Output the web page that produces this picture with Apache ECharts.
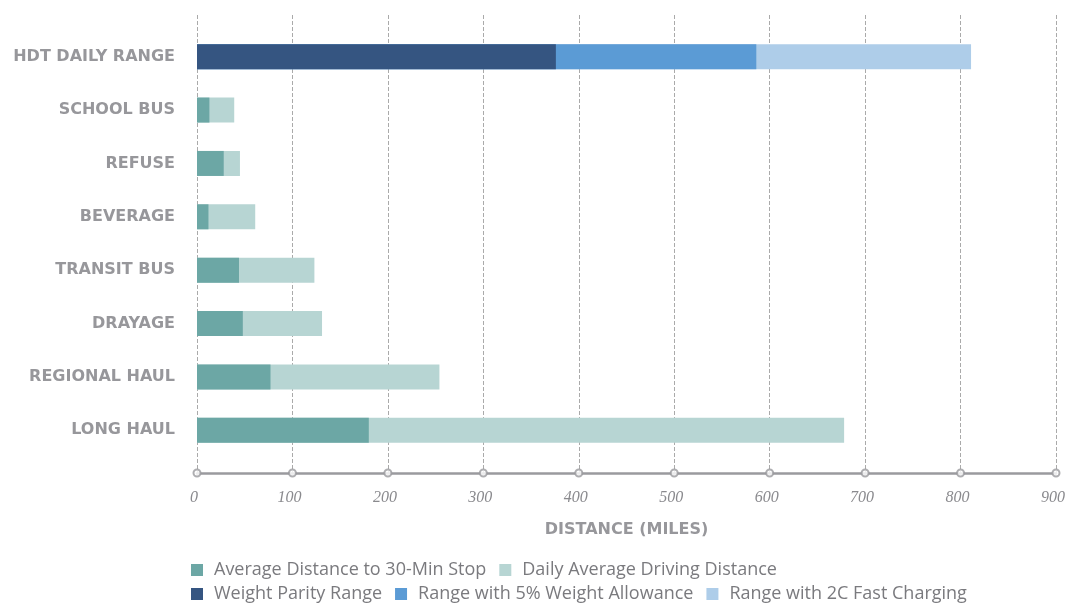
<html lang="en">
<head>
    <meta charset="UTF-8">
    <title>HDT Daily Range</title>
    <style>
        html, body { margin: 0; padding: 0; background: #fff; overflow: hidden; }
        #echart { width: 1066px; height: 603px; }
    </style>
</head>
<body>
<div id="echart"></div>
<script src="https://cdn.jsdelivr.net/npm/echarts@6/dist/echarts.min.js"></script>
<script>
    // categories, top to bottom
    const categories = ['HDT DAILY RANGE', 'SCHOOL BUS', 'REFUSE', 'BEVERAGE', 'TRANSIT BUS', 'DRAYAGE', 'REGIONAL HAUL', 'LONG HAUL']
    // miles ('-' = no bar)
    const avgStop = ['-', 13, 28, 12, 44, 48, 77, 180]
    const dailyAvg = ['-', 39, 45, 61, 123, 131, 254, 678]
    const parityRange = [376, '-', '-', '-', '-', '-', '-', '-']
    const allowanceRange = [586, '-', '-', '-', '-', '-', '-', '-']
    const fastChargeRange = [811, '-', '-', '-', '-', '-', '-', '-']
    const xTicks = [0, 100, 200, 300, 400, 500, 600, 700, 800, 900]

    const echartDom = document.getElementById('echart')
    let echart = echarts.init(echartDom)

    const grey = '#97979b'
    const bar = (name, data, color) => ({
        type: 'bar', name: name, data: data,
        xAxisIndex: 1, yAxisIndex: 1,
        barWidth: 25, barGap: '-100%',
        itemStyle: { color: color }
    })
    const legendText = { color: '#7a7a7e', fontSize: 18, fontFamily: 'Open Sans', padding: [0, 0, 0, 6] }

    echart.setOption({
        animation: false,
        grid: [
            // outer grid: axis line, ticks, dashed lines
            { left: 197, right: 10, top: 15, bottom: 130, outerBoundsMode: 'none' },
            // inner grid: the bars
            { left: 197, right: 10, top: 30, bottom: 146, outerBoundsMode: 'none' }
        ],
        legend: [{
            left: 186, top: 556, itemWidth: 12, itemHeight: 12, itemGap: 13,
            icon: 'rect', textStyle: legendText,
            data: ['Average Distance to 30-Min Stop', 'Daily Average Driving Distance']
        }, {
            left: 186, top: 580, itemWidth: 12, itemHeight: 12, itemGap: 13,
            icon: 'rect', textStyle: legendText,
            data: ['Weight Parity Range', 'Range with 5% Weight Allowance', 'Range with 2C Fast Charging']
        }],
        xAxis: [{
            gridIndex: 0, type: 'value', min: 0, max: 900, interval: 100,
            name: 'DISTANCE (MILES)', nameLocation: 'middle', nameGap: 49,
            nameTextStyle: { color: grey, fontSize: 16, fontWeight: 'bold', fontFamily: 'DejaVu Sans' },
            axisLine: { show: true, lineStyle: { color: '#9a9a9e', width: 2.5 } },
            axisTick: { show: false },
            axisLabel: {
                color: '#8a8a8e', fontSize: 16, fontStyle: 'italic', fontFamily: 'Liberation Serif',
                margin: 17, padding: [0, 6, 0, 0]
            },
            splitLine: { show: true, lineStyle: { color: '#aaaaaa', type: 'dashed', width: 1 } }
        }, {
            gridIndex: 1, type: 'value', min: 0, max: 900, show: false,
            splitLine: { show: false }
        }],
        yAxis: [{
            gridIndex: 0, type: 'value', min: 0, max: 1, show: false
        }, {
            gridIndex: 1, type: 'category', data: categories, inverse: true,
            axisLine: { show: false }, axisTick: { show: false },
            axisLabel: {
                color: grey, fontSize: 16, fontWeight: 'bold', fontFamily: 'DejaVu Sans',
                margin: 22, padding: [3, 0, 0, 0]
            }
        }],
        series: [
            bar('Daily Average Driving Distance', dailyAvg, '#b7d5d3'),
            bar('Average Distance to 30-Min Stop', avgStop, '#6ca7a5'),
            bar('Range with 2C Fast Charging', fastChargeRange, '#aecde9'),
            bar('Range with 5% Weight Allowance', allowanceRange, '#5b9bd5'),
            bar('Weight Parity Range', parityRange, '#355581'),
            {
                // hollow circles on the axis at each tick
                type: 'scatter', xAxisIndex: 0, yAxisIndex: 0, clip: false,
                data: xTicks.map(v => [v, 0]),
                symbol: 'circle', symbolSize: 7, silent: true, z: 5,
                itemStyle: { color: '#fff', borderColor: '#9a9a9e', borderWidth: 2 }
            }
        ]
    })
</script>
</body>
</html>
